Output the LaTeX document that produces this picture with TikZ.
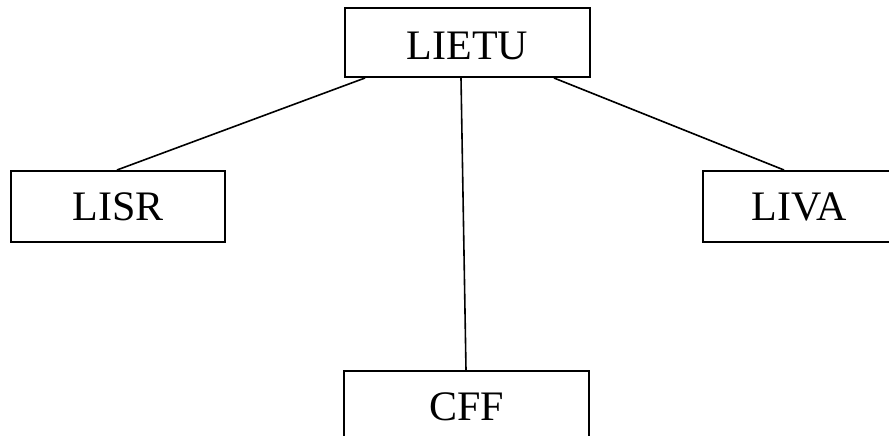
\documentclass[tikz,border=0pt]{standalone}
\usepackage{fontspec}
\setmainfont{Liberation Serif}
\begin{document}
\begin{tikzpicture}[x=1pt,y=1pt,
  boxnode/.style={draw=black, line width=2pt, fill=white, inner sep=0pt,
    font=\fontsize{42}{50}\selectfont, text height=28pt, text depth=0pt},
  conn/.style={draw=black, line width=1.6pt}]
\useasboundingbox (0,0) rectangle (889,-436);
\clip (0,0) rectangle (889,-436);
\node[boxnode, minimum width=245pt, minimum height=69pt, text height=34pt] (lietu) at (467.5,-42.5) {LIETU};
\node[boxnode, minimum width=214pt, minimum height=71pt] (lisr) at (118,-206.5) {LISR};
\node[boxnode, minimum width=192pt, minimum height=71pt] (liva) at (799,-206.5) {LIVA};
\node[boxnode, minimum width=245pt, minimum height=71pt] (cff) at (466.5,-406.5) {CFF};
\draw[conn] ([xshift=21pt]lietu.south west) -- ([xshift=107pt]lisr.north west);
\draw[conn] ([xshift=117pt]lietu.south west) -- ([xshift=123pt]cff.north west);
\draw[conn] ([xshift=-37pt]lietu.south east) -- ([xshift=82pt]liva.north west);
\end{tikzpicture}
\end{document}
